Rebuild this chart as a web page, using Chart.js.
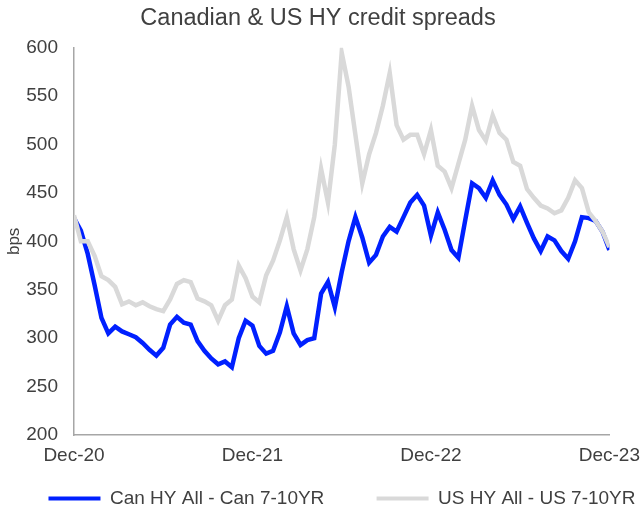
<!DOCTYPE html>
<html>
<head>
<meta charset="utf-8">
<title>Canadian & US HY credit spreads</title>
<script src="https://cdn.jsdelivr.net/npm/chart.js@4.4.0/dist/chart.umd.min.js"></script>
<style>
  html, body { margin: 0; padding: 0; background: #fff; }
  canvas { display: block; }
</style>
</head>
<body>
<canvas id="spreadChart" width="641" height="512"></canvas>
<script>
// sample points: weeks since Dec-20, every 2 weeks
const weeks = [
  0, 2, 4, 6, 8, 10, 12, 14, 16, 18,
  20, 22, 24, 26, 28, 30, 32, 34, 36, 38,
  40, 42, 44, 46, 48, 50, 52, 54, 56, 58,
  60, 62, 64, 66, 68, 70, 72, 74, 76, 78,
  80, 82, 84, 86, 88, 90, 92, 94, 96, 98,
  100, 102, 104, 106, 108, 110, 112, 114, 116, 118,
  120, 122, 124, 126, 128, 130, 132, 134, 136, 138,
  140, 142, 144, 146, 148, 150, 152, 154, 156
];

// Can HY All - Can 7-10YR (bps)
const canSpread = [
  424, 411, 387, 355, 321, 305, 312, 307, 304, 301,
  295, 288, 282, 290, 314, 322, 316, 314, 297, 287,
  279, 273, 276, 270, 300, 318, 313, 292, 284, 287,
  306, 333, 305, 293, 298, 300, 346, 358, 332, 368,
  400, 425, 404, 378, 386, 405, 415, 410, 425, 440,
  448, 437, 406, 430, 412, 391, 383, 422, 460, 455,
  445, 463, 448, 438, 423, 436, 419, 403, 390, 405,
  401, 390, 382, 400, 425, 424, 421, 410, 391
];

// US HY All - US 7-10YR (bps)
const usSpread = [
  427, 400, 400, 385, 364, 360, 353, 335, 338, 334,
  337, 333, 330, 328, 340, 356, 360, 358, 341, 338,
  334, 318, 334, 340, 375, 362, 343, 337, 365, 380,
  401, 425, 392, 370, 392, 425, 475, 440, 500, 595,
  560, 510, 460, 490, 512, 540, 574, 520, 505, 510,
  510, 490, 515, 478, 472, 455, 480, 505, 540, 515,
  504, 530, 512, 505, 482, 478, 454, 445, 437, 434,
  429, 432, 445, 463, 455, 430, 421, 410, 394
];

const tickWeeks = [0, 52, 104, 156];
const tickLabels = ['Dec-20', 'Dec-21', 'Dec-22', 'Dec-23'];

const textColor = '#404040';
const axisColor = '#a6a6a6';
const fontFamily = "'Liberation Sans', Arial, sans-serif";

function toPoints(values) {
  return values.map((v, i) => ({ x: weeks[i], y: v }));
}

// nudge title and legend to where the original puts them
const boxNudge = {
  id: 'boxNudge',
  afterLayout(chart) {
    const lg = chart.legend;
    if (lg) {
      lg.left += 32;
      lg.right += 32;
      lg.top += 6;
      lg.bottom += 6;
    }
    const tb = chart.titleBlock;
    if (tb) {
      tb.left += 8;
      tb.right += 8;
    }
  }
};

const ctx = document.getElementById('spreadChart').getContext('2d');

new Chart(ctx, {
  type: 'line',
  data: {
    datasets: [
      {
        label: 'US HY All - US 7-10YR',
        data: toPoints(usSpread),
        borderColor: '#d9d9d9',
        backgroundColor: '#d9d9d9',
        borderWidth: 4.5,
        pointRadius: 0,
        tension: 0,
        fill: false
      },
      {
        label: 'Can HY All - Can 7-10YR' + '        ',
        data: toPoints(canSpread),
        borderColor: '#0020ff',
        backgroundColor: '#0020ff',
        borderWidth: 4.5,
        pointRadius: 0,
        tension: 0,
        fill: false
      }
    ]
  },
  options: {
    responsive: false,
    animation: false,
    layout: {
      padding: { left: 0, right: 21, top: 0, bottom: 0 }
    },
    plugins: {
      title: {
        display: true,
        text: 'Canadian & US HY credit spreads',
        color: textColor,
        font: { family: fontFamily, size: 23.5, weight: 'normal' },
        padding: { top: 4, bottom: 15.5 }
      },
      legend: {
        position: 'bottom',
        reverse: true,
        labels: {
          color: textColor,
          font: { family: fontFamily, size: 19 },
          boxWidth: 52,
          boxHeight: 4,
          padding: 10,
          generateLabels(chart) {
            const items = Chart.defaults.plugins.legend.labels.generateLabels(chart);
            items.forEach(item => { item.lineWidth = 0; });
            return items;
          }
        }
      },
      tooltip: { enabled: false }
    },
    scales: {
      x: {
        type: 'linear',
        min: 0,
        max: 156,
        grid: { display: false },
        border: { display: true, color: axisColor, width: 1.5 },
        afterBuildTicks(scale) {
          scale.ticks = tickWeeks.map(v => ({ value: v }));
        },
        afterFit(scale) {
          scale.height = 38;
        },
        ticks: {
          color: textColor,
          font: { family: fontFamily, size: 19 },
          padding: 1,
          maxRotation: 0,
          autoSkip: false,
          callback(value) {
            const idx = tickWeeks.indexOf(value);
            return idx >= 0 ? tickLabels[idx] : '';
          }
        }
      },
      y: {
        min: 200,
        max: 600,
        grid: { display: false },
        border: { display: true, color: axisColor, width: 1.5 },
        afterFit(scale) {
          scale.width = 74;
        },
        ticks: {
          stepSize: 50,
          color: textColor,
          font: { family: fontFamily, size: 19 },
          padding: 8
        },
        title: {
          display: true,
          text: 'bps',
          color: textColor,
          font: { family: fontFamily, size: 17 },
          padding: { top: 4, bottom: 0 }
        }
      }
    }
  },
  plugins: [boxNudge]
});
</script>
</body>
</html>
